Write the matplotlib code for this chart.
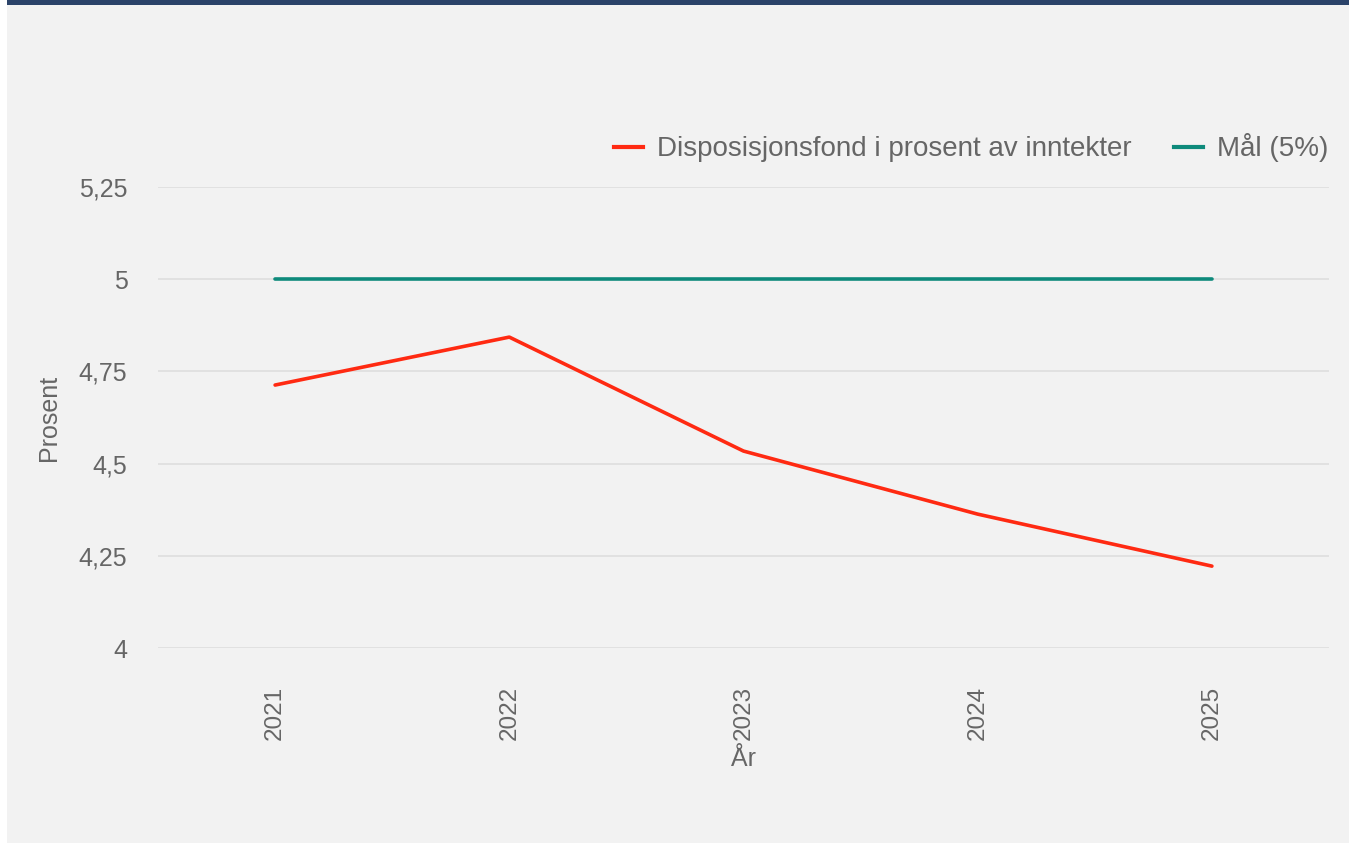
import matplotlib.pyplot as plt
import matplotlib.patches as patches
from matplotlib.ticker import FixedLocator, FuncFormatter
from matplotlib.lines import Line2D

years = ["2021", "2022", "2023", "2024", "2025"]
fond_pct = [4.713, 4.843, 4.534, 4.363, 4.222]
maal_pct = [5.0, 5.0, 5.0, 5.0, 5.0]
y_ticks = [4, 4.25, 4.5, 4.75, 5, 5.25]

bg = "#f2f2f2"
text_col = "#666666"
red = "#ff2a12"
teal = "#0e8a7b"

plt.rcParams['font.family'] = ['Liberation Sans', 'DejaVu Sans']

W, H = 1351, 843
fig = plt.figure(figsize=(W / 100, H / 100), dpi=100, facecolor="white")

# background panel and dark top strip
fig.add_artist(patches.Rectangle((7 / W, 0), (W - 9) / W, 1, transform=fig.transFigure,
                                 facecolor=bg, edgecolor="none", zorder=-10))
fig.add_artist(patches.Rectangle((7 / W, 1 - 5 / H), (W - 9) / W, 5 / H, transform=fig.transFigure,
                                 facecolor="#2b4369", edgecolor="none", zorder=-9))

left, right, top, bottom = 158, 1329, 187, 648
ax = fig.add_axes([left / W, 1 - bottom / H, (right - left) / W, (bottom - top) / H])
ax.set_facecolor("none")

x = list(range(len(years)))
ax.plot(x, fond_pct, color=red, lw=2.6, solid_capstyle="round", zorder=3)
ax.plot(x, maal_pct, color=teal, lw=2.6, solid_capstyle="round", zorder=3)

ax.set_xlim(-0.5, len(years) - 0.5)
ax.set_ylim(4, 5.25)
ax.set_xticks(x)
ax.set_xticklabels(years, rotation=90, va="top")
ax.yaxis.set_major_locator(FixedLocator(y_ticks))
ax.yaxis.set_major_formatter(FuncFormatter(lambda v, p: f"{v:g}".replace(".", ",")))

ax.grid(axis="y", color="#dedede", lw=1.2)
ax.set_axisbelow(True)
for s in ax.spines.values():
    s.set_visible(False)
ax.tick_params(axis="both", length=0, labelsize=18, labelcolor=text_col)
ax.tick_params(axis="y", pad=22)
ax.tick_params(axis="x", pad=27, labelsize=17.5)

ax.set_xlabel("År", fontsize=18, color=text_col, labelpad=5)
ax.set_ylabel("Prosent", fontsize=18, color=text_col, labelpad=13)

handles = [Line2D([], [], color=red, lw=3), Line2D([], [], color=teal, lw=3)]
leg = ax.legend(handles, ["Disposisjonsfond i prosent av inntekter", "Mål (5%)"],
                loc="lower right", bbox_to_anchor=(1.0205, 0.999), ncol=2, frameon=False,
                handlelength=1.05, handletextpad=0.5, columnspacing=1.5,
                prop={"size": 20})
for t in leg.get_texts():
    t.set_color(text_col)

fig.savefig("out.png", dpi=100, facecolor="white")
